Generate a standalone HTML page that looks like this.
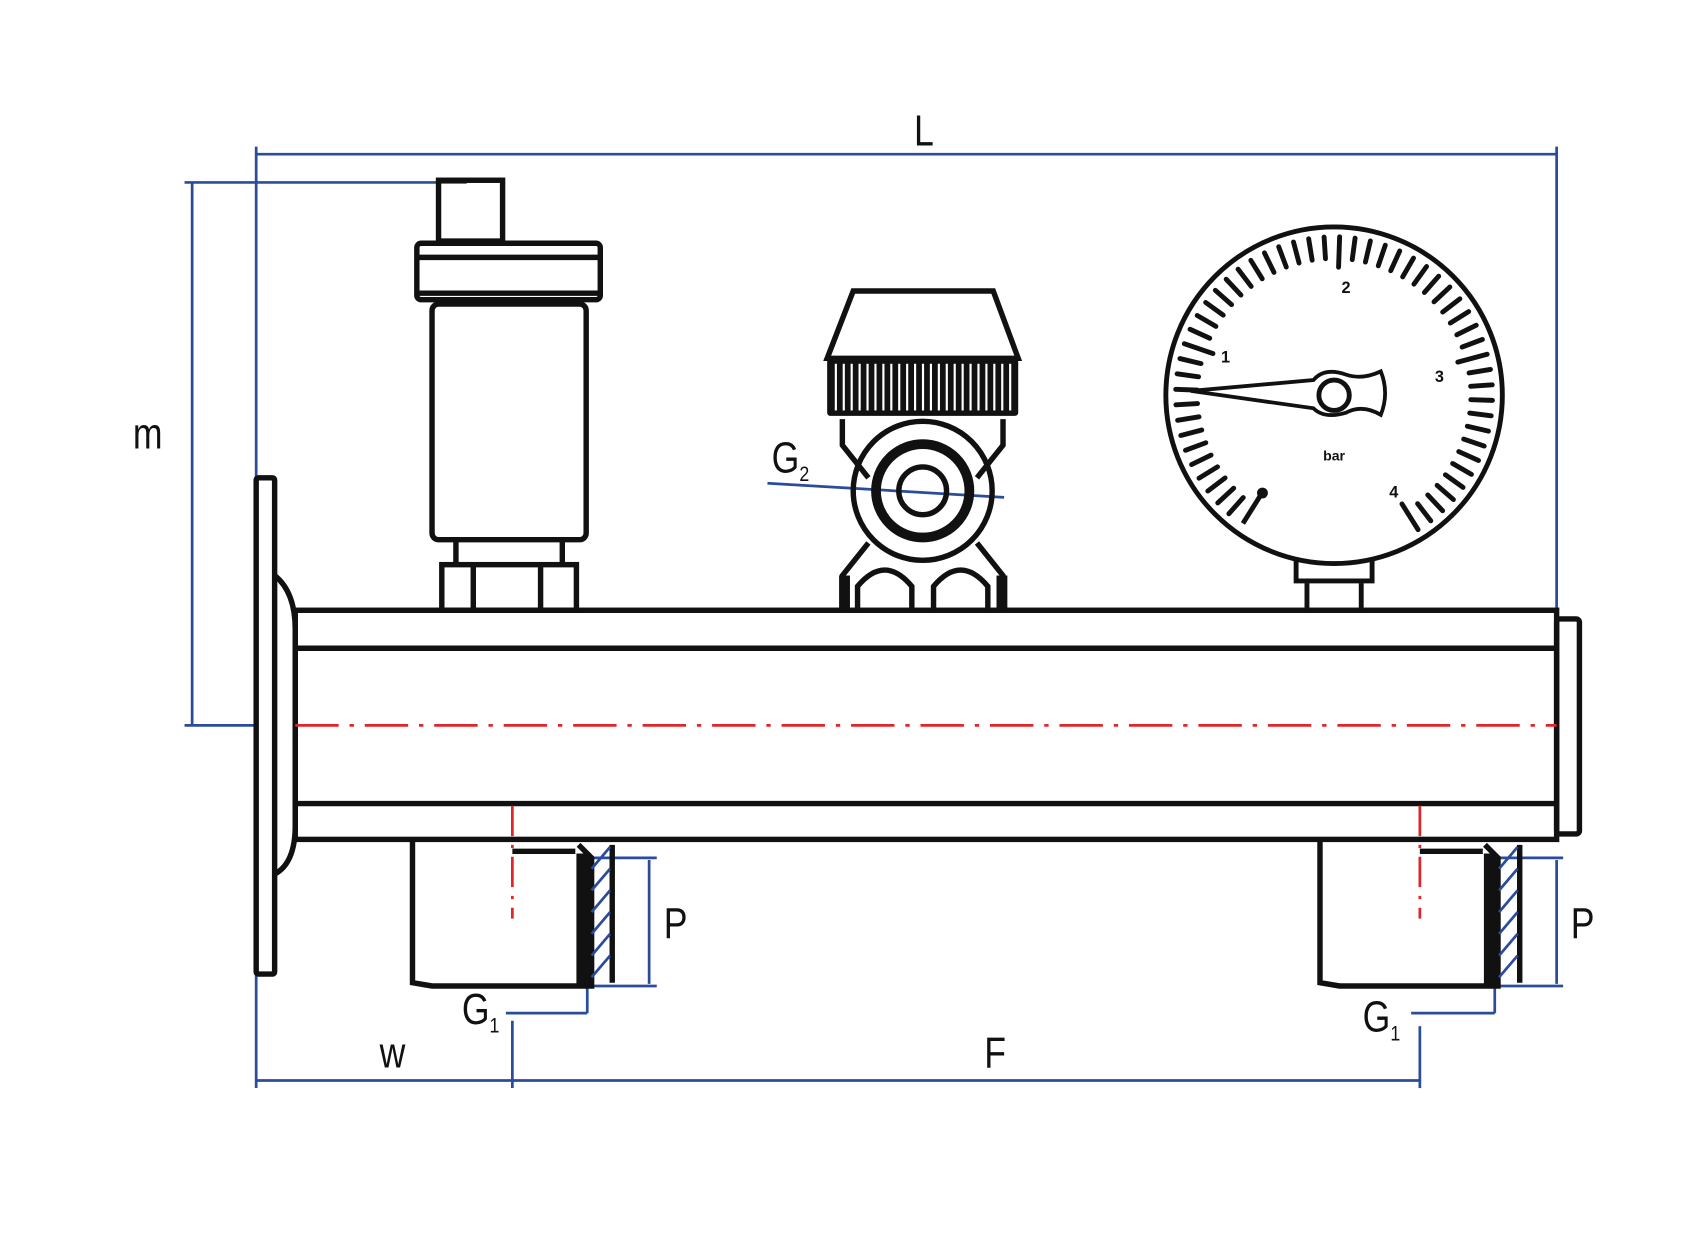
<!DOCTYPE html>
<html><head><meta charset="utf-8"><style>
html,body{margin:0;padding:0;background:#fff}
svg{display:block}
text{font-family:"Liberation Sans",sans-serif;}
</style></head><body>
<svg id="s" width="1701" height="1239" viewBox="0 0 1567 1141" preserveAspectRatio="none" xmlns="http://www.w3.org/2000/svg">
<rect width="1567" height="1141" fill="#fff"/>
<g stroke="#2b4b9b" stroke-width="2.5" fill="none">
<line x1="236" y1="142" x2="1434" y2="142"/>
<line x1="236" y1="135" x2="236" y2="1002"/>
<line x1="1434" y1="135" x2="1434" y2="566"/>
<line x1="177" y1="168" x2="177" y2="668"/>
<line x1="170" y1="168" x2="430" y2="168"/>
<line x1="170" y1="668" x2="236" y2="668"/>
<line x1="236" y1="995" x2="1308" y2="995"/>
<line x1="472" y1="940" x2="472" y2="1002"/>
<line x1="1308" y1="945" x2="1308" y2="1002"/>
<line x1="598" y1="792" x2="598" y2="906"/>
<line x1="540" y1="790" x2="605" y2="790"/>
<line x1="540" y1="908" x2="605" y2="908"/>
<line x1="1434" y1="792" x2="1434" y2="906"/>
<line x1="1378" y1="790" x2="1440" y2="790"/>
<line x1="1378" y1="908" x2="1440" y2="908"/>
<line x1="466" y1="933" x2="541" y2="933"/>
<line x1="541" y1="908" x2="541" y2="933"/>
<line x1="1300" y1="933" x2="1377" y2="933"/>
<line x1="1377" y1="908" x2="1377" y2="933"/>
<line x1="707" y1="445" x2="925" y2="458"/>
</g>
<g font-size="40" fill="#111" text-anchor="middle" transform="scale(0.82,1)">
<text x="1038" y="134">L</text>
<text x="166" y="413">m</text>
<text x="759" y="864">P</text>
<text x="1778" y="864">P</text>
<text x="441" y="983">w</text>
<text x="1118" y="983">F</text>
<text x="540" y="943">G<tspan font-size="20" dy="8">1</tspan></text>
<text x="1552" y="950">G<tspan font-size="20" dy="8">1</tspan></text>
<text x="888" y="435">G<tspan font-size="20" dy="8">2</tspan></text>
</g>
<g stroke="#111" stroke-width="5" fill="none">
<rect x="236" y="440" width="17" height="457" rx="2"/>
<path d="M253 530 Q272 545 272 580 L272 760 Q272 795 253 805"/>
<rect x="272" y="562" width="1162" height="211"/>
<line x1="272" y1="597" x2="1434" y2="597"/>
<line x1="272" y1="740" x2="1434" y2="740"/>
<rect x="1434" y="570" width="21" height="198" rx="3"/>
<path d="M380 775 L380 905 L398 908 L545 908 L545 790 L533 778"/>
<path d="M1216 775 L1216 905 L1234 908 L1380 908 L1380 790 L1368 778"/>
<line x1="472" y1="784" x2="530" y2="784"/>
<line x1="1308" y1="784" x2="1366" y2="784"/>
<line x1="564" y1="778" x2="564" y2="905"/>
<line x1="1400" y1="778" x2="1400" y2="905"/>
</g>
<rect x="531" y="786" width="12" height="120" fill="#111"/>
<rect x="1367" y="786" width="12" height="120" fill="#111"/>
<g stroke="#2b4b9b" stroke-width="2.5">
<line x1="545" y1="800" x2="562" y2="780"/><line x1="545" y1="820" x2="562" y2="800"/><line x1="545" y1="840" x2="562" y2="820"/><line x1="545" y1="860" x2="562" y2="840"/><line x1="545" y1="880" x2="562" y2="860"/><line x1="545" y1="900" x2="562" y2="880"/>
<line x1="1381" y1="800" x2="1398" y2="780"/><line x1="1381" y1="820" x2="1398" y2="800"/><line x1="1381" y1="840" x2="1398" y2="820"/><line x1="1381" y1="860" x2="1398" y2="840"/><line x1="1381" y1="880" x2="1398" y2="860"/><line x1="1381" y1="900" x2="1398" y2="880"/>
</g>
<g stroke="#e0262b" stroke-width="2.5" fill="none">
<line x1="272" y1="668" x2="1434" y2="668" stroke-dasharray="40 10 4 10"/>
<line x1="472" y1="742" x2="472" y2="846" stroke-dasharray="28 8 3 8"/>
<line x1="1308" y1="742" x2="1308" y2="846" stroke-dasharray="28 8 3 8"/>
</g>
<g stroke="#111" stroke-width="5" fill="none">
<rect x="404" y="166" width="59" height="56"/>
<rect x="384" y="224" width="169" height="52" rx="4"/>
<line x1="386" y1="237" x2="551" y2="237"/>
<line x1="386" y1="270" x2="551" y2="270"/>
<rect x="398" y="280" width="142" height="217" rx="6"/>
<line x1="420" y1="497" x2="420" y2="520"/><line x1="518" y1="497" x2="518" y2="520"/>
<rect x="407" y="520" width="124" height="42"/>
<line x1="436" y1="520" x2="436" y2="562"/><line x1="498" y1="520" x2="498" y2="562"/>
</g>
<g stroke="#111" stroke-width="5" fill="none">
<path d="M786 268 L915 268 L938 330 L762 330 Z"/>
<path d="M776 386 L776 410 L800 440 M924 386 L924 410 L900 440"/>
<path d="M800 500 L776 530 L776 560 M900 500 L924 530 L924 560"/>
<circle cx="850" cy="452" r="64"/>
<circle cx="850" cy="452" r="22"/>
<path d="M790 560 L790 540 Q815 510 840 540 L840 560 M860 560 L860 540 Q885 510 910 540 L910 560"/>
</g>
<circle cx="850" cy="452" r="43" stroke="#111" stroke-width="9" fill="none"/>
<rect x="762" y="330" width="176" height="53" rx="3" fill="#111"/>
<g stroke="#fff" stroke-width="2" id="knurl"></g>
<rect x="773" y="530" width="10" height="32" fill="#111"/><rect x="918" y="530" width="10" height="32" fill="#111"/>
<g stroke="#111" stroke-width="4.5" fill="none">
<circle cx="1229" cy="364" r="155"/>
<path d="M1194 516 L1194 535 L1264 535 L1264 516"/>
<path d="M1204 537 L1204 560 M1254 537 L1254 560"/>
<path d="M1097 360 L1210 350 Q1220 338 1240 345 Q1255 350 1272 342 Q1280 362 1272 382 Q1255 372 1240 380 Q1220 386 1210 376 Z" stroke-width="3.5"/>
<circle cx="1229" cy="364" r="14"/>
<line x1="1162" y1="455" x2="1145" y2="482"/>
</g>
<circle cx="1163" cy="454" r="5" fill="#111"/>
<g id="ticks" stroke="#111" stroke-width="4.5" stroke-linecap="round"></g>
<g font-size="15" font-weight="bold" fill="#111" text-anchor="middle">
<text x="1129" y="334">1</text><text x="1240" y="270">2</text><text x="1326" y="352">3</text><text x="1284" y="458">4</text><text x="1229" y="424" font-size="13">bar</text>
</g>
</svg>
<script>
var ns="http://www.w3.org/2000/svg";
var k=document.getElementById("knurl");
for(var x=770;x<935;x+=7.3){var l=document.createElementNS(ns,"line");l.setAttribute("x1",x);l.setAttribute("x2",x);l.setAttribute("y1",335);l.setAttribute("y2",378);k.appendChild(l);}
var t=document.getElementById("ticks");
var N=52;
for(var i=1;i<=N;i++){var a=(-144+i*292/N)*Math.PI/180;var ro=146,ri=(i%13==0)?118:126;
var l=document.createElementNS(ns,"line");
l.setAttribute("x1",1229+ro*Math.sin(a));l.setAttribute("y1",364-ro*Math.cos(a));
l.setAttribute("x2",1229+ri*Math.sin(a));l.setAttribute("y2",364-ri*Math.cos(a));t.appendChild(l);}
</script>
</body></html>
